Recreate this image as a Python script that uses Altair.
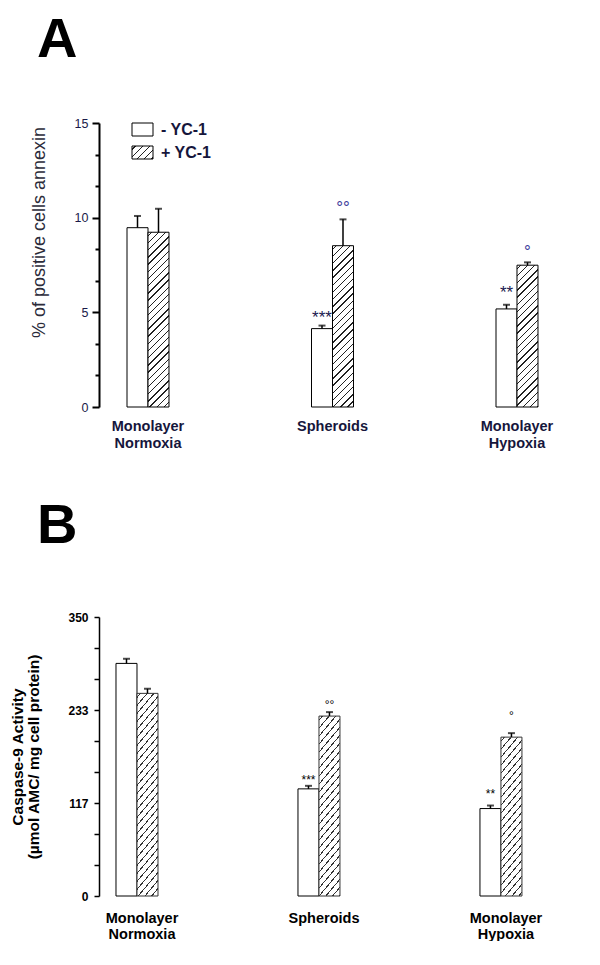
import altair as alt
import pandas as pd

FONT = "Liberation Sans"

categories = ["Monolayer Normoxia", "Spheroids", "Monolayer Hypoxia"]
treatments = ["- YC-1", "+ YC-1"]

# Panel A: % of positive cells annexin
annexin_minus = [9.47, 4.14, 5.18]
annexin_minus_err = [0.62, 0.16, 0.22]
annexin_plus = [9.23, 8.52, 7.49]
annexin_plus_err = [1.24, 1.39, 0.15]
annexin_sig_minus = ["", "***", "**"]
annexin_sig_plus = ["", "°°", "°"]
annexin_sig_minus_y = [None, 4.86, 6.18]
annexin_sig_plus_y = [None, 10.72, 8.42]

# Panel B: Caspase-9 activity
caspase_minus = [291.8, 134.4, 109.7]
caspase_minus_err = [5.8, 3.8, 3.8]
caspase_plus = [254.2, 225.7, 199.3]
caspase_plus_err = [5.8, 5.0, 5.0]
caspase_sig_minus = ["", "***", "**"]
caspase_sig_plus = ["", "°°", "°"]
caspase_sig_minus_y = [None, 147.8, 130.6]
caspase_sig_plus_y = [None, 243.6, 229.8]

a_ticks = [i * 15 / 9 for i in range(10)]
b_ticks = [i * 350 / 9 for i in range(10)]


def make_df(minus, minus_err, plus, plus_err):
    rows = []
    for i, c in enumerate(categories):
        rows.append(dict(category=c, treatment=treatments[0], value=minus[i], err=minus_err[i]))
        rows.append(dict(category=c, treatment=treatments[1], value=plus[i], err=plus_err[i]))
    df = pd.DataFrame(rows)
    df["top"] = df["value"] + df["err"]
    return df


def make_ann(sig_minus, sig_minus_y, sig_plus, sig_plus_y):
    rows = []
    for i, c in enumerate(categories):
        if sig_minus[i]:
            rows.append(dict(category=c, treatment=treatments[0], label=sig_minus[i], ypos=sig_minus_y[i]))
        if sig_plus[i]:
            rows.append(dict(category=c, treatment=treatments[1], label=sig_plus[i], ypos=sig_plus_y[i]))
    return pd.DataFrame(rows)


def hatch(w, h, period, thick=1.5, color="#222222"):
    """45-degree '/' hatching as a hard-stop linear gradient for a w x h box."""
    L = w + h
    q = L / (w * w + h * h)
    stops = [alt.GradientStop(color="white", offset=0)]
    c = period / 2.0
    while c < L:
        o1 = max(0.0, (c - thick / 2) / L)
        o2 = min(1.0, (c + thick / 2) / L)
        stops += [
            alt.GradientStop(color="white", offset=o1),
            alt.GradientStop(color=color, offset=o1),
            alt.GradientStop(color=color, offset=o2),
            alt.GradientStop(color="white", offset=o2),
        ]
        c += period
    stops.append(alt.GradientStop(color="white", offset=1))
    return alt.LinearGradient(gradient="linear", stops=stops, x1=0, y1=0, x2=w * q, y2=h * q)


def panel(letter, df, ann, plus, cfg, yaxis, legend=False):
    W, H, ymax = cfg["W"], cfg["H"], cfg["ymax"]
    step = W / (3 - cfg["pi"] + 2 * cfg["po"])
    bw = step * (1 - cfg["pi"])
    bar_w = bw / (2 - cfg["pi2"]) * (1 - cfg["pi2"])

    x = alt.X(
        "category:N", sort=categories, title=None,
        scale=alt.Scale(paddingInner=cfg["pi"], paddingOuter=cfg["po"]),
        axis=alt.Axis(domain=False, ticks=False, grid=False, labelAngle=0,
                      labelExpr="split(datum.label, ' ')",
                      labelFont=FONT, labelFontSize=cfg["xfs"], labelFontWeight="bold",
                      labelColor=cfg["tc"], labelPadding=cfg["xpad"],
                      labelLineHeight=cfg["xlh"], labelBaseline="top"),
    )
    xo = alt.XOffset("treatment:N", sort=treatments, scale=alt.Scale(paddingInner=cfg["pi2"]))
    yscale = alt.Scale(domain=[0, ymax], nice=False)

    def Y(field):
        return alt.Y(field, scale=yscale, axis=yaxis, title=cfg["ytitle"])

    base = alt.Chart(df)
    white = base.transform_filter(alt.datum.treatment == treatments[0]).mark_bar(
        fill="white", stroke="black", strokeWidth=1
    ).encode(x=x, xOffset=xo, y=Y("value:Q"))

    layers = [white]
    for i, c in enumerate(categories):
        h = plus[i] / ymax * H
        layers.append(
            base.transform_filter((alt.datum.treatment == treatments[1]) & (alt.datum.category == c))
            .mark_bar(fill=hatch(bar_w, h, cfg["period"], color=cfg["hc"]), stroke=cfg["hs"], strokeWidth=1)
            .encode(x=x, xOffset=xo, y=Y("value:Q"))
        )

    layers.append(
        base.mark_rule(color="black", strokeWidth=1.5).encode(
            x=x, xOffset=xo, y=Y("value:Q"), y2="top:Q")
    )
    layers.append(
        base.mark_tick(color="black", thickness=2, size=cfg["cap"]).encode(
            x=x, xOffset=xo, y=Y("top:Q"))
    )

    abase = alt.Chart(ann)
    layers.append(
        abase.transform_filter(alt.datum.treatment == treatments[0]).mark_text(
            font=FONT, fontSize=cfg["afs"], color=cfg["star_c"], baseline="middle", dy=cfg["star_dy"]
        ).encode(x=x, xOffset=xo, y=Y("ypos:Q"), text="label:N")
    )
    layers.append(
        abase.transform_filter(alt.datum.treatment == treatments[1]).mark_text(
            font=FONT, fontSize=cfg["afs"], color=cfg["deg_c"], baseline="middle", dy=cfg["deg_dy"]
        ).encode(x=x, xOffset=xo, y=Y("ypos:Q"), text="label:N")
    )

    if legend:
        ldf = pd.DataFrame({"treatment": treatments})
        lb = alt.Chart(ldf)
        layers.append(
            lb.transform_filter(alt.datum.treatment == treatments[0]).mark_rect(
                fill="white", stroke="black", strokeWidth=1
            ).encode(x=alt.value(33), x2=alt.value(54), y=alt.value(0), y2=alt.value(13))
        )
        layers.append(
            lb.transform_filter(alt.datum.treatment == treatments[1]).mark_rect(
                fill=hatch(21, 13, cfg["period"], color=cfg["hc"]), stroke="black", strokeWidth=1
            ).encode(x=alt.value(33), x2=alt.value(54), y=alt.value(23), y2=alt.value(36))
        )
        for t, yy in zip(treatments, [6.5, 29.5]):
            layers.append(
                lb.transform_filter(alt.datum.treatment == t).mark_text(
                    font=FONT, fontSize=16, fontWeight="bold", color=cfg["tc"], align="left", baseline="middle"
                ).encode(x=alt.value(62), y=alt.value(yy), text="treatment:N")
            )

    return alt.layer(*layers).properties(
        width=W, height=H,
        title=alt.TitleParams(letter, anchor="start", frame="group", fontSize=56, fontWeight="bold",
                              font=FONT, dx=-62, offset=cfg["toff"], baseline="alphabetic", color="black"),
    )


cfgA = dict(W=467, H=284, ymax=15, pi=0.7724, po=0.1518, pi2=0.0, period=7.2, hc="#222222", hs="black",
            xfs=14.5, xpad=12, xlh=17, tc="#16163c", afs=17, star_c="#1a1a50", deg_c="#3a3a9a",
            star_dy=3, deg_dy=4, cap=7, toff=4, ytitle="% of positive cells annexin")
cfgB = dict(W=450, H=279, ymax=350, pi=0.714, po=0.0934, pi2=0.08, period=8.0, hc="#333333", hs="#333333",
            xfs=14.5, xpad=15, xlh=16, tc="black", afs=12, star_c="black", deg_c="black",
            star_dy=2, deg_dy=3, cap=7, toff=12, ytitle=["Caspase-9 Activity", "(µmol AMC/ mg cell protein)"])

yaxisA = alt.Axis(
    values=a_ticks, grid=False,
    labelExpr="datum.value % 5 === 0 ? format(datum.value, 'd') : ''",
    tickSize={"condition": {"test": "datum.value % 5 === 0", "value": 7}, "value": 4},
    tickWidth=2, domainWidth=2, domainColor="black", tickColor="black",
    labelFont=FONT, labelFontSize=12.5, labelColor="#1a1a48", labelPadding=4,
    titleFont=FONT, titleFontSize=18, titleFontWeight="normal", titleColor="#2b2b3a",
    titleBaseline="alphabetic", titleX=-55, titleY=109, titleAngle=270, titleAlign="center",
)
yaxisB = alt.Axis(
    values=b_ticks, grid=False,
    labelExpr="round(datum.value * 9 / 350) % 3 === 0 ? format(datum.value, '.0f') : ''",
    tickSize=5, tickWidth=1.5, domainWidth=1.5, domainColor="black", tickColor="black",
    labelFont=FONT, labelFontSize=12, labelFontWeight="bold", labelColor="black", labelPadding=6,
    titleFont=FONT, titleFontSize=15.5, titleFontWeight="bold", titleColor="black",
    titleBaseline="alphabetic", titleX=-77, titleY=139.5, titleAngle=270, titleAlign="center",
    titleLineHeight=16.5,
)

dfA = make_df(annexin_minus, annexin_minus_err, annexin_plus, annexin_plus_err)
annA = make_ann(annexin_sig_minus, annexin_sig_minus_y, annexin_sig_plus, annexin_sig_plus_y)
dfB = make_df(caspase_minus, caspase_minus_err, caspase_plus, caspase_plus_err)
annB = make_ann(caspase_sig_minus, caspase_sig_minus_y, caspase_sig_plus, caspase_sig_plus_y)

panelA = panel("A", dfA, annA, annexin_plus, cfgA, yaxisA, legend=True)
panelB = panel("B", dfB, annB, caspase_plus, cfgB, yaxisB)

chart = alt.vconcat(panelA, panelB, spacing=48).properties(
    padding={"left": 2, "top": 4, "right": 0, "bottom": 0},
    background="white",
).configure_view(stroke=None)

chart.save("out.html", embed_options={"renderer": "svg", "actions": False})
